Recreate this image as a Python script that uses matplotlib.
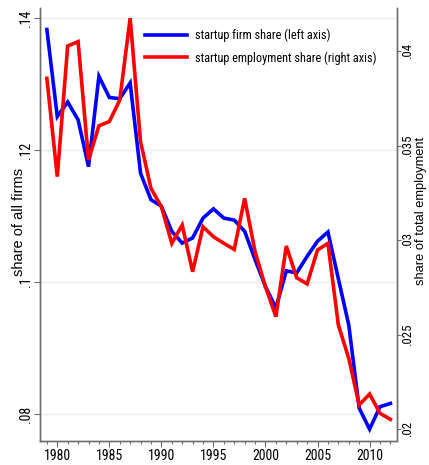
import matplotlib
matplotlib.use("Agg")
import matplotlib.pyplot as plt
from matplotlib import font_manager
from matplotlib.ticker import MultipleLocator

names = {f.name for f in font_manager.fontManager.ttflist}
narrow = "Liberation Sans"
for cand in ["Liberation Sans Narrow", "Arial Narrow", "Roboto Condensed", "Archivo Narrow"]:
    if cand in names:
        narrow = cand
        break

years = list(range(1979, 2013))
firm_share = [0.1383, 0.1251, 0.1273, 0.1246, 0.1175, 0.1312, 0.1280, 0.1278, 0.1302,
              0.1165, 0.1125, 0.1115, 0.1077, 0.1059, 0.1067, 0.1097, 0.1111, 0.1097,
              0.1094, 0.1077, 0.1034, 0.0993, 0.0961, 0.1017, 0.1014, 0.1039, 0.1062,
              0.1076, 0.1005, 0.0935, 0.0809, 0.0777, 0.0811, 0.0816]
emp_share = [0.03857, 0.03337, 0.04028, 0.04051, 0.03425, 0.03606, 0.03628, 0.03742, 0.04175,
             0.03522, 0.03275, 0.03178, 0.02984, 0.03081, 0.02834, 0.03072, 0.03019, 0.02984,
             0.02952, 0.03222, 0.02940, 0.02754, 0.02596, 0.02970, 0.02802, 0.02769, 0.02949,
             0.02984, 0.02552, 0.02376, 0.02129, 0.02187, 0.02085, 0.02053]
left_ticks = [0.08, 0.10, 0.12, 0.14]
left_labels = [".08", ".1", ".12", ".14"]
right_ticks = [0.02, 0.025, 0.03, 0.035, 0.04]
right_labels = [".02", ".025", ".03", ".035", ".04"]
x_ticks = [1980, 1985, 1990, 1995, 2000, 2005, 2010]

W, H = 429, 465
x0, x1, y0, y1 = 40, 396.5, 8, 440.7
fig = plt.figure(figsize=(W/100, H/100), dpi=100)
ax = fig.add_axes([x0/W, 1-y1/H, (x1-x0)/W, (y1-y0)/H])
ax2 = ax.twinx()

spine_c = "#6e6e6e"
grid_c = "#e6eef2"

l1, = ax.plot(years, firm_share, color="#0000ff", lw=2.6, solid_joinstyle="miter")
l2, = ax2.plot(years, emp_share, color="#ff0000", lw=2.6, solid_joinstyle="miter")

ax.set_xlim(1978.34, 1978.34 + (x1 - x0) / 10.41)
ax.set_ylim(0.07595, 0.14156)
ax2.set_ylim(0.0194, 0.04229)

ax.set_yticks(left_ticks)
ax.set_yticklabels(left_labels, rotation=90, va="center", family=narrow, fontsize=10)
ax2.set_yticks(right_ticks)
ax2.set_yticklabels(right_labels, rotation=90, va="center", family=narrow, fontsize=9.3)
ax.set_xticks(x_ticks)
ax.set_xticklabels([str(x) for x in x_ticks], family=narrow, fontsize=10)
ax.xaxis.set_minor_locator(MultipleLocator(1))

for a in (ax, ax2):
    a.spines["top"].set_visible(False)
    for s in ("left", "right", "bottom"):
        a.spines[s].set_color(spine_c)
        a.spines[s].set_linewidth(1.0)
    a.tick_params(axis="both", which="major", length=4, width=0.8, color=spine_c, pad=2)
    a.tick_params(axis="x", which="minor", length=2.5, width=0.8, color=spine_c)
ax.tick_params(axis="y", pad=1)
ax2.tick_params(axis="y", length=3, pad=0.5)

ax.grid(axis="y", color=grid_c, lw=1.0)
ax.set_axisbelow(True)

ax.set_ylabel("share of all firms", family="Liberation Sans", fontsize=10.5)
ax.yaxis.set_label_coords(-0.039, 0.505)
ax2.set_ylabel("share of total employment", family="Liberation Sans", fontsize=9.3, rotation=90)
ax2.yaxis.set_label_coords((415 - x0) / (x1 - x0), 0.53)

leg = ax2.legend([l1, l2], ["startup firm share (left axis)", "startup employment share (right axis)"],
                 loc="upper right", bbox_to_anchor=((388 - x0) / (x1 - x0), 0.979), frameon=True,
                 prop={"family": narrow, "size": 8.8}, handlelength=3.4, handletextpad=0.65,
                 labelspacing=0.75, borderpad=0.45, fancybox=False)
leg.get_frame().set_facecolor("white")
leg.get_frame().set_edgecolor("none")
leg.get_frame().set_alpha(1)

fig.savefig("out.png", dpi=100)
